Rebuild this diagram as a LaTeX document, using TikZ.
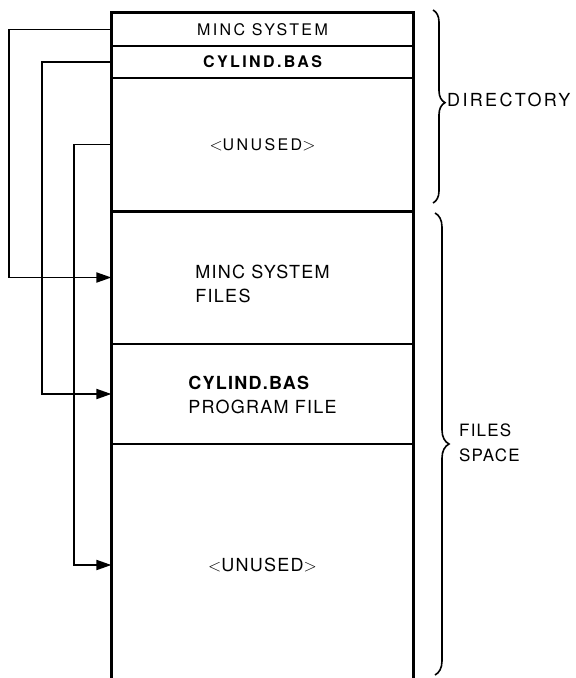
\documentclass[tikz,border=0pt]{standalone}
\usepackage{fontspec}
\setmainfont{TeX Gyre Heros}
\newfontfamily\spA[LetterSpace=15]{TeX Gyre Heros}
\newfontfamily\spB[LetterSpace=7]{TeX Gyre Heros}
\newfontfamily\spC[LetterSpace=13]{TeX Gyre Heros}
\usetikzlibrary{arrows.meta,decorations.pathreplacing}
\begin{document}
\begin{tikzpicture}[x=1pt,y=-1pt,
  row/.style={draw, line width=1.2pt, minimum width=301pt, inner sep=0pt},
  small/.style={font=\spA\fontsize{16}{23}\selectfont},
  big/.style={font=\spB\fontsize{18}{24}\selectfont},
  txt/.style={big, align=left, inner sep=0pt},
  conn/.style={line width=1.8pt, -{Triangle[length=15pt,width=10pt]}},
  frame/.style={line width=2.4pt, line cap=rect},
  lab/.style={font=\spC\fontsize{18}{25}\selectfont, anchor=west, align=left, inner sep=0pt},
  br/.style={decorate, decoration={brace, amplitude=12pt, aspect=0.48}, line width=1.6pt}]
\useasboundingbox (0,0) rectangle (576,678);
% rows
\node[row, small, minimum height=33pt] (minc) at (262.5,29.5) {MINC SYSTEM};
\node[row, small, minimum height=32pt] (cyl) at (262.5,62) {\bfseries CYLIND.BAS};
\node[row, font=\spA\fontsize{16}{23}\selectfont, minimum height=133pt] (un1) at (262.5,144.5) {$<$UNUSED$>$};
\node[row, minimum height=133pt] (mf) at (262.5,277.5) {};
\node[row, minimum height=100pt] (cf) at (262.5,394) {};
\node[row, minimum height=240pt] (un2) at (262.5,564) {};
% texts
\node[txt] (mft) at ([yshift=-6pt]mf.center) {MINC SYSTEM\\FILES};
\node[txt] (cft) at ([yshift=-0.5pt]cf.center) {{\bfseries CYLIND.BAS}\\PROGRAM FILE};
\node[txt] (un2t) at ([yshift=-1pt]un2.center) {$<$UNUSED$>$};
% frame
\draw[frame] (un2.south west) -- (minc.north west) -- (minc.north east) -- (un2.south east);
\draw[line width=3.5pt] (un1.south west) -- (un1.south east);
% connectors
\coordinate (v1) at (9,0);
\coordinate (v2) at (42,0);
\coordinate (v3) at (74,0);
\draw[conn] (minc.west) -- (minc.west -| v1) |- (mf.west);
\draw[conn] (cyl.west) -- (cyl.west -| v2) |- (cf.west);
\draw[conn] (un1.west) -- (un1.west -| v3) |- (un2t.west -| un2.west);
% braces
\coordinate (b1t) at (433,10);
\coordinate (b1b) at (433,203);
\coordinate (b2t) at (435,213);
\coordinate (b2b) at (435,675);
\draw[br] (b1t) -- (b1b);
\draw[br, decoration={brace, amplitude=14pt, aspect=0.5}] (b2t) -- (b2b);
\node[lab] (dir) at (447,100) {DIRECTORY};
\node[lab, font=\spB\fontsize{17}{25}\selectfont] (fs) at (459,443) {FILES\\SPACE};
\end{tikzpicture}
\end{document}
